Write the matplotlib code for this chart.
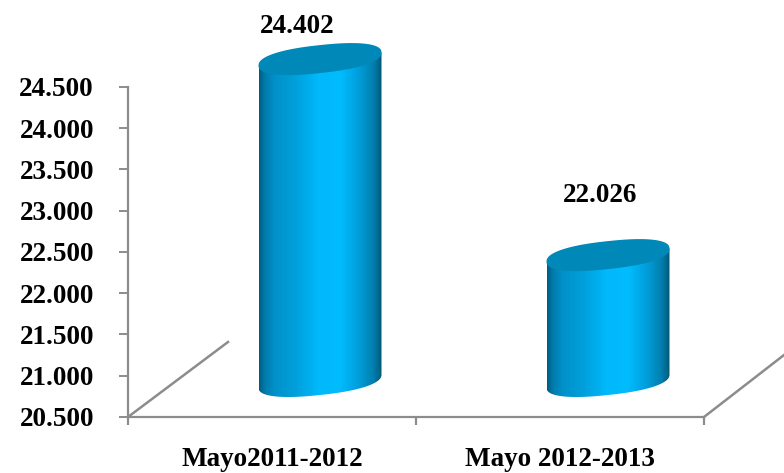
import numpy as np
import matplotlib
matplotlib.use('Agg')
import matplotlib.pyplot as plt
from matplotlib.colors import LinearSegmentedColormap
from matplotlib.path import Path
from matplotlib.patches import PathPatch
from matplotlib.transforms import ScaledTranslation

categories = ['Mayo2011-2012', 'Mayo 2012-2013']
values = [24402, 22026]
y_ticks = [20500, 21000, 21500, 22000, 22500, 23000, 23500, 24000, 24500]

plt.rcParams['font.family'] = ['Liberation Serif', 'DejaVu Serif']
GREY = '#8c8c8c'

fig = plt.figure(figsize=(7.84, 4.73), dpi=100)
# axes box in pixels: x 128-704, y 87-417 from the top
ax = fig.add_axes([128 / 784, (473 - 417) / 473, 576 / 784, 330 / 473])
ax.set_xlim(0, 2)
ax.set_ylim(20500, 24500)

for s in ['top', 'right']:
    ax.spines[s].set_visible(False)
for s in ['left', 'bottom']:
    ax.spines[s].set_color(GREY)
    ax.spines[s].set_linewidth(1.6)
ax.set_xticks([0, 1, 2])
ax.set_xticklabels([])
ax.set_yticks(y_ticks)
ax.set_yticklabels([f'{v:,}'.replace(',', '.') for v in y_ticks], fontsize=19.5, fontweight='bold')
ax.tick_params(axis='y', length=6.5, width=1.4, color=GREY, pad=18)
ax.tick_params(axis='x', length=6, width=1.6, color=GREY)

for i, c in enumerate(categories):
    ax.text(i + 0.5, 20500, c, ha='center', va='top', fontsize=19.5, fontweight='bold',
            transform=ax.transData + ScaledTranslation(0, -30 / 100, fig.dpi_scale_trans))

# floor edges going back in depth
for x0, dx, dy in [(0, 100, 75), (2, 80, 62)]:
    ax.plot([x0, x0 + dx / 288], [20500, 20500 + dy / 0.0825], color=GREY, lw=1.8, clip_on=False)

# cylinders sit half way back in depth
depth = ax.transData + ScaledTranslation(48 / 100, 36 / 100, fig.dpi_scale_trans)

cmap = LinearSegmentedColormap.from_list('cyl', [
    (0.0, '#005c80'), (0.04, '#0078a8'), (0.12, '#0090c8'), (0.3, '#00a0dc'), (0.48, '#00b8fa'),
    (0.66, '#00bcff'), (0.82, '#009cd8'), (0.93, '#0080b0'), (1.0, '#005878')])
grad = np.linspace(0, 1, 256).reshape(1, -1)

half_w = 61.5 / 288  # category units
b = 14 / 0.0825      # ellipse half height, value units
tilt = 6.5 / 0.0825  # right side sits higher
t = np.linspace(0, 2 * np.pi, 181)
# slightly squarer than an ellipse, like the original shape
cos_t = np.sign(np.cos(t)) * np.abs(np.cos(t)) ** 0.85
sin_t = np.sign(np.sin(t)) * np.abs(np.sin(t)) ** 0.85

# data labels are placed by hand in the original, offsets in px from the value on the back wall
label_dx = [25, 40]
label_dy = [56, 83]

for i, v in enumerate(values):
    cx = i + 0.5
    xe = half_w * cos_t
    ye = b * sin_t + tilt * cos_t

    # body outline: lower half of the base ellipse then up to the top
    low = (t >= np.pi) & (t <= 2 * np.pi)
    xs = np.r_[cx + xe[low], cx + half_w, cx - half_w]
    ys = np.r_[20500 + ye[low], v + tilt, v - tilt]
    body = PathPatch(Path(np.c_[xs, ys]), transform=depth, fc='none', ec='none', clip_on=False)
    ax.add_patch(body)
    im = ax.imshow(grad, cmap=cmap, aspect='auto', interpolation='bilinear',
                   extent=[cx - half_w, cx + half_w, 20000, 25000], zorder=3)
    im.set_transform(depth)
    im.set_clip_box(fig.bbox)
    im.set_clip_path(body)

    ax.fill(cx + xe, v + ye, color='#0088b8', zorder=4, clip_on=False, transform=depth, lw=0)

    ax.text(cx, v, f'{v:,}'.replace(',', '.'), ha='center', va='bottom', fontsize=19.5,
            fontweight='bold', zorder=5,
            transform=ax.transData + ScaledTranslation(label_dx[i] / 100, label_dy[i] / 100, fig.dpi_scale_trans))

ax.set_xlim(0, 2)
ax.set_ylim(20500, 24500)
fig.savefig('out.png', dpi=100)
